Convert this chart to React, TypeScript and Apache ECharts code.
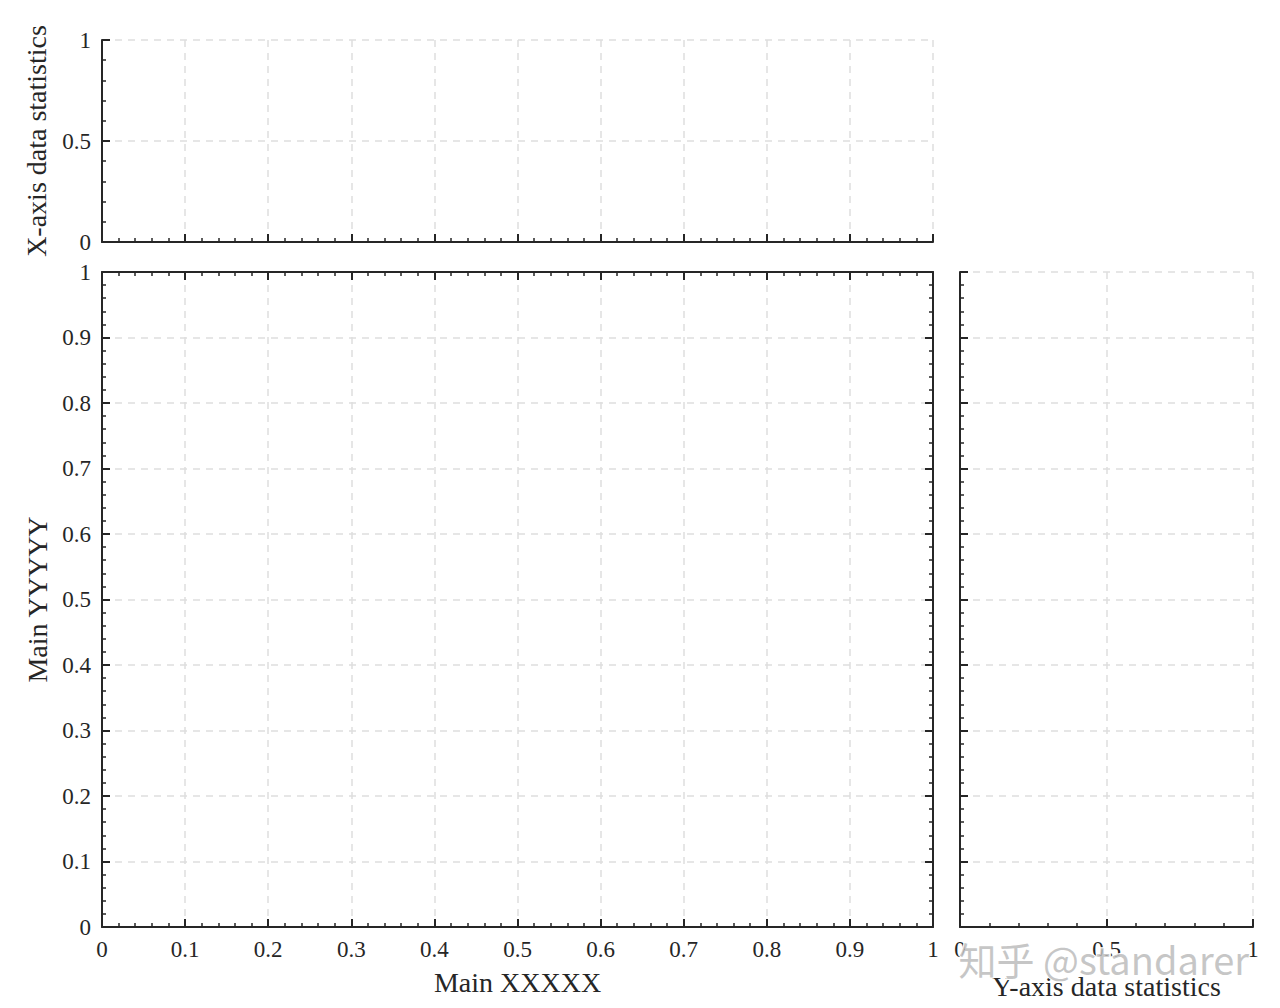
import React, { useEffect, useRef } from "react";
import * as echarts from "echarts";

// Axis ranges and tick labels (the figure holds no data, only empty axes)
const mainTicks = [0, 0.1, 0.2, 0.3, 0.4, 0.5, 0.6, 0.7, 0.8, 0.9, 1];
const statTicks = [0, 0.5, 1];
const topSeries: number[][] = [];
const mainSeries: number[][] = [];
const rightSeries: number[][] = [];

const FONT = "Liberation Serif";
const INK = "#262626";

const tickRange = (ticks: number[]) => ({
  min: ticks[0],
  max: ticks[ticks.length - 1],
  interval: ticks[1] - ticks[0],
});

const labelOf = (ticks: number[]) => (v: number) => {
  const hit = ticks.find((t) => Math.abs(t - v) < 1e-9);
  return hit === undefined ? "" : String(hit);
};

// shared look of every axis
const baseAxis = (ticks: number[], gridIndex: number, showLabel: boolean, showGrid: boolean) => ({
  type: "value",
  gridIndex,
  ...tickRange(ticks),
  axisLine: { show: true, onZero: false, lineStyle: { color: INK, width: 2 } },
  axisTick: { show: true, inside: true, length: 8, lineStyle: { color: INK, width: 2 } },
  minorTick: { show: true, splitNumber: 5, length: 4, lineStyle: { color: INK, width: 1.5 } },
  axisLabel: {
    show: showLabel,
    color: INK,
    fontFamily: FONT,
    fontSize: 23,
    margin: 11,
    formatter: labelOf(ticks),
  },
  splitLine: {
    show: showGrid,
    lineStyle: { color: "#dedede", width: 1.5, type: [7, 6] },
  },
  nameTextStyle: { color: INK, fontFamily: FONT, fontSize: 28 },
});

const App: React.FC = () => {
  const chartRef = useRef<HTMLDivElement>(null);

  useEffect(() => {
    if (!chartRef.current) return;
    const chart = echarts.init(chartRef.current, null, { renderer: "svg" });

    const option = {
      animation: false,
      backgroundColor: "#ffffff",
      grid: [
        { left: 102, top: 40, width: 831, height: 202 },
        { left: 102, top: 272, width: 831, height: 655 },
        { left: 960, top: 272, width: 293, height: 655 },
      ],
      xAxis: [
        // top histogram panel
        { ...baseAxis(mainTicks, 0, false, true), position: "bottom" },
        // main panel bottom + top (box)
        {
          ...baseAxis(mainTicks, 1, true, true),
          position: "bottom",
          name: "Main XXXXX",
          nameLocation: "middle",
          nameGap: 41,
        },
        { ...baseAxis(mainTicks, 1, false, false), position: "top" },
        // right histogram panel
        {
          ...baseAxis(statTicks, 2, true, true),
          position: "bottom",
          name: "Y-axis data statistics",
          nameLocation: "middle",
          nameGap: 45,
        },
      ],
      yAxis: [
        {
          ...baseAxis(statTicks, 0, true, true),
          position: "left",
          name: "X-axis data statistics",
          nameLocation: "middle",
          nameGap: 52,
        },
        {
          ...baseAxis(mainTicks, 1, true, true),
          position: "left",
          name: "Main YYYYY",
          nameLocation: "middle",
          nameGap: 47,
        },
        { ...baseAxis(mainTicks, 1, false, false), position: "right" },
        { ...baseAxis(mainTicks, 2, false, true), position: "left" },
      ],
      series: [
        { type: "scatter", xAxisIndex: 0, yAxisIndex: 0, data: topSeries },
        { type: "scatter", xAxisIndex: 1, yAxisIndex: 1, data: mainSeries },
        { type: "scatter", xAxisIndex: 3, yAxisIndex: 3, data: rightSeries },
      ],
      graphic: [
        {
          type: "text",
          right: 30,
          top: 938,
          z: 100,
          style: {
            text: "知乎 @standarer",
            font: '38px "Noto Sans CJK SC"',
            fill: "rgba(180,180,180,0.75)",
            stroke: "#ffffff",
            lineWidth: 2,
          },
        },
      ],
    };

    chart.setOption(option);

    return () => {
      chart.dispose();
    };
  }, []);

  return (
    <div
      ref={chartRef}
      style={{ position: "absolute", left: 0, top: 0, width: "1280px", height: "1008px" }}
    />
  );
};

export default App;
